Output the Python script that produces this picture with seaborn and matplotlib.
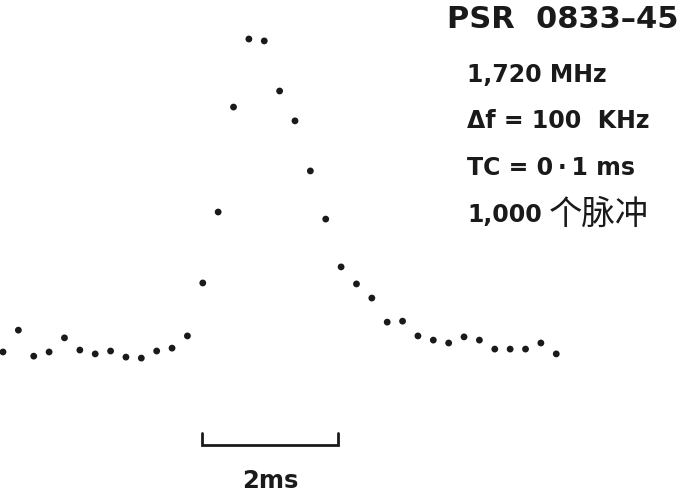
import numpy as np
import pandas as pd
import matplotlib
matplotlib.use('Agg')
import matplotlib.pyplot as plt
import seaborn as sns

# pulse profile of PSR 0833-45, relative intensity (peak = 100), one sample every dt ms
dt = 0.226
intensity = [2.5, 9.3, 1.2, 2.5, 6.9, 3.1, 1.9, 2.8, 0.9, 0.6, 2.8, 3.7, 7.5,
             24.0, 46.1, 78.8, 100.0, 99.4, 83.8, 74.5, 58.9, 43.9, 29.0, 23.7,
             19.3, 11.8, 12.1, 7.5, 6.2, 5.3, 7.2, 6.2, 3.4, 3.4, 3.4, 5.3, 1.9]

bar_start = 2.93   # ms
bar_length = 2.0   # ms
bar_label = '2ms'

title = 'PSR  0833–45'
info_lines = ['1,720 MHz', 'Δf = 100  KHz', 'TC = 0\u2009·\u20091 ms', '1,000']
pulses_label = '个脉冲'

df = pd.DataFrame({'t': np.arange(len(intensity)) * dt, 'I': intensity})

sns.set_style('white')
plt.rcParams['font.family'] = ['DejaVu Sans', 'Noto Sans CJK SC']

ink = '#1a1a1a'
fig = plt.figure(figsize=(6.87, 4.93), dpi=100)
ax = fig.add_axes([0, 0, 1, 1])

sns.scatterplot(data=df, x='t', y='I', ax=ax, color=ink, s=24,
                edgecolor='none', legend=False)

# scale bar
bar_y = -26.5
tick_h = 3.7
ax.plot([bar_start, bar_start, bar_start + bar_length, bar_start + bar_length],
        [bar_y + tick_h, bar_y, bar_y, bar_y + tick_h],
        color=ink, lw=2.0, solid_joinstyle='miter')
ax.text(bar_start + bar_length / 2, -37.6, bar_label, ha='center', va='center',
        fontsize=17.5, fontweight='bold', color=ink)

px_per_ms = 68.0
ax.set_xlim(-3 / px_per_ms, (687 - 3) / px_per_ms)
ax.set_ylim((360 - 493) / 3.21, 360 / 3.21)
ax.axis('off')

fig.text(447 / 687, 1 - 19 / 493, title, ha='left', va='center',
         fontsize=22, fontweight='bold', color=ink)
for k, line in enumerate(info_lines):
    fig.text(467 / 687, 1 - (75 + 46.5 * k) / 493, line, ha='left', va='center',
             fontsize=17, fontweight='bold', color=ink)
fig.text(549 / 687, 1 - (75 + 46.5 * 3) / 493, pulses_label, ha='left', va='center',
         fontsize=24, family=['Noto Sans CJK SC'], fontweight='light', color=ink)

fig.savefig('out.png', dpi=100)
